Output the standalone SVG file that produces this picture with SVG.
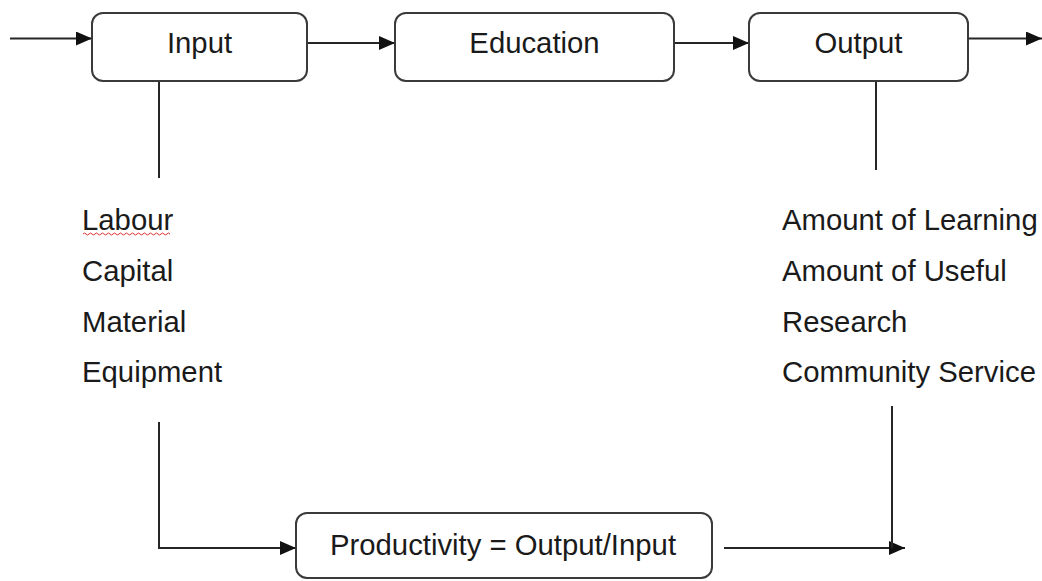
<svg xmlns="http://www.w3.org/2000/svg" width="1042" height="581" viewBox="0 0 1042 581">
<style>
.box{fill:#fff;stroke:#3a3a3a;stroke-width:2}
.ln{fill:none;stroke:#262626;stroke-width:2}
.t{font-family:"Liberation Sans",Arial,sans-serif;font-size:29.3px;fill:#1a1a1a}
.c{text-anchor:middle}
</style>
<defs>
<marker id="ah" viewBox="0 0 16 14" refX="16" refY="7" markerWidth="16" markerHeight="14" markerUnits="userSpaceOnUse" orient="auto">
<path d="M0,0 L16,7 L0,14 Z" fill="#111"/>
</marker>
</defs>
<g id="connectors">
<line class="ln" x1="10" y1="38.5" x2="92" y2="38.5" marker-end="url(#ah)"/>
<line class="ln" x1="307" y1="43" x2="395" y2="43" marker-end="url(#ah)"/>
<line class="ln" x1="674" y1="43" x2="749" y2="43" marker-end="url(#ah)"/>
<line class="ln" x1="968" y1="38.5" x2="1042" y2="38.5" marker-end="url(#ah)"/>
<line class="ln" x1="159" y1="81" x2="159" y2="178"/>
<line class="ln" x1="876" y1="81" x2="876" y2="170"/>
<polyline class="ln" points="159,422 159,548 296,548" marker-end="url(#ah)"/>
<line class="ln" x1="724" y1="548" x2="905" y2="548" marker-end="url(#ah)"/>
<line class="ln" x1="892" y1="406" x2="892" y2="548"/>
</g>
<g id="node-input">
<rect class="box" x="92" y="13" width="215" height="68" rx="11"/>
<text class="t c" x="199.5" y="53">Input</text>
</g>
<g id="node-education">
<rect class="box" x="395" y="13" width="279" height="68" rx="11"/>
<text class="t c" x="534.5" y="53">Education</text>
</g>
<g id="node-output">
<rect class="box" x="749" y="13" width="219" height="68" rx="11"/>
<text class="t c" x="858.5" y="53">Output</text>
</g>
<g id="node-inputs-list">
<text class="t" x="82" y="230">Labour</text>
<path d="M83,234 q1.5,-2 3,0 t3,0 t3,0 t3,0 t3,0 t3,0 t3,0 t3,0 t3,0 t3,0 t3,0 t3,0 t3,0 t3,0 t3,0 t3,0 t3,0 t3,0 t3,0 t3,0 t3,0 t3,0 t3,0 t3,0 t3,0 t3,0 t3,0 t3,0 t3,0" fill="none" stroke="#e03030" stroke-width="1"/>
<text class="t" x="82" y="281">Capital</text>
<text class="t" x="82" y="332">Material</text>
<text class="t" x="82" y="382">Equipment</text>
</g>
<g id="node-outputs-list">
<text class="t" x="782" y="230">Amount of Learning</text>
<text class="t" x="782" y="281">Amount of Useful</text>
<text class="t" x="782" y="332">Research</text>
<text class="t" x="782" y="382">Community Service</text>
</g>
<g id="node-productivity">
<rect class="box" x="296" y="513" width="416" height="65" rx="11"/>
<text class="t c" x="503" y="555">Productivity = Output/Input</text>
</g>
</svg>
